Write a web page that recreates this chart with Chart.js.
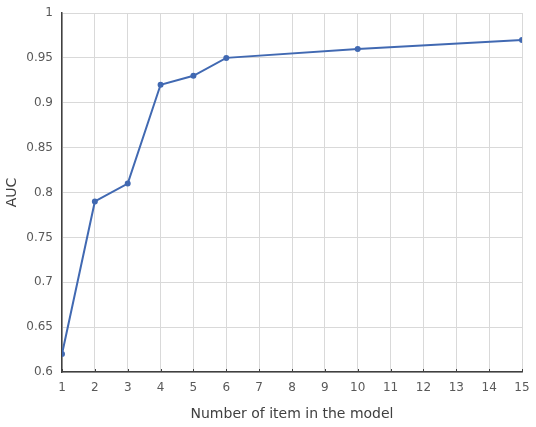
<!DOCTYPE html>
<html>
<head>
<meta charset="utf-8">
<script src="https://cdn.jsdelivr.net/npm/chart.js@4"></script>
<style>
  html, body { margin: 0; padding: 0; background: #fff; }
  #wrap { width: 536px; height: 427px; }
</style>
</head>
<body>
<div id="wrap"><canvas id="auc-canvas" width="536" height="427"></canvas></div>
<script>
// number of items vs AUC
const itemCounts = [1, 2, 3, 4, 5, 6, 10, 15];
const aucValues = [0.62, 0.79, 0.81, 0.92, 0.93, 0.95, 0.96, 0.97];

const points = itemCounts.map((n, i) => ({ x: n, y: aucValues[i] }));

// small inward tick marks on the bottom axis, like the original
const innerTicks = {
    id: 'innerTicks',
    afterDatasetsDraw(chart) {
        const ctx = chart.ctx;
        const xs = chart.scales.x;
        const bottom = chart.chartArea.bottom;
        ctx.save();
        ctx.strokeStyle = '#404040';
        ctx.lineWidth = 1;
        for (let v = 1; v <= 15; v++) {
            const px = Math.round(xs.getPixelForValue(v)) + 0.5;
            ctx.beginPath();
            ctx.moveTo(px, bottom);
            ctx.lineTo(px, bottom - 3);
            ctx.stroke();
        }
        ctx.restore();
    }
};

const ctx = document.getElementById('auc-canvas').getContext('2d');
new Chart(ctx, {
    type: 'line',
    data: {
        datasets: [{
            label: 'AUC',
            data: points,
            borderColor: '#4169b2',
            backgroundColor: '#4169b2',
            borderWidth: 2,
            pointRadius: 2,
            pointHoverRadius: 2,
            tension: 0
        }]
    },
    options: {
        responsive: false,
        animation: false,
        layout: { padding: { top: 13, right: 14, left: 0, bottom: 0 } },
        plugins: {
            legend: { display: false },
            tooltip: { enabled: false }
        },
        scales: {
            x: {
                type: 'linear',
                min: 1,
                max: 15,
                afterFit(scale) {
                    scale.height = 55;
                    scale.paddingLeft = 0;
                    scale.paddingRight = 0;
                },
                grid: { color: '#d9d9d9', drawTicks: false },
                border: { color: '#404040', width: 1.5 },
                ticks: {
                    stepSize: 1,
                    padding: 9,
                    color: '#595959',
                    font: { family: 'DejaVu Sans', size: 12 }
                },
                title: {
                    display: true,
                    text: 'Number of item in the model',
                    color: '#404040',
                    font: { family: 'DejaVu Sans', size: 14 },
                    padding: { top: 8 }
                }
            },
            y: {
                min: 0.6,
                max: 1,
                afterFit(scale) {
                    scale.width = 62;
                    scale.paddingTop = 0;
                    scale.paddingBottom = 0;
                },
                grid: { color: '#d9d9d9', drawTicks: false },
                border: { color: '#404040', width: 1.5 },
                ticks: {
                    stepSize: 0.05,
                    padding: 9,
                    color: '#595959',
                    font: { family: 'DejaVu Sans', size: 12 },
                    callback: v => +v.toFixed(2)
                },
                title: {
                    display: true,
                    text: 'AUC',
                    color: '#404040',
                    font: { family: 'DejaVu Sans', size: 14 },
                    padding: { bottom: 0 }
                }
            }
        }
    },
    plugins: [innerTicks]
});
</script>
</body>
</html>
